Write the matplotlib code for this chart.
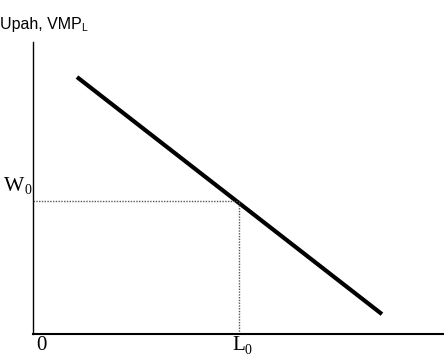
import matplotlib.pyplot as plt

# demand curve (VMP_L) end points, in axis units
curve_x = [1.07, 8.49]
curve_y = [8.80, 0.68]
L0 = 5.0
W0 = 4.55

fig = plt.figure(figsize=(4.44, 3.64), dpi=100)
ax = fig.add_axes([33/444, 30/364, 411/444, 292/364])
ax.set_xlim(0, 10)
ax.set_ylim(0, 10)

ax.plot(curve_x, curve_y, color='black', lw=3.0, solid_capstyle='butt')
ax.plot([0, L0], [W0, W0], color='#555555', lw=1.0, ls=(0, (1, 1)))
ax.plot([L0, L0], [0, W0], color='#555555', lw=1.0, ls=(0, (1, 1)))

for s in ['top', 'right']:
    ax.spines[s].set_visible(False)
ax.spines['left'].set_linewidth(1.0)
ax.spines['bottom'].set_linewidth(1.5)
ax.set_xticks([])
ax.set_yticks([])

serif = 'Liberation Serif'
sans = 'Liberation Sans'
# axis title
fig.text(0 / 444, 1 - 24 / 364, 'Upah, VMP', fontsize=11.5, family=sans, va='center', ha='left')
fig.text(81 / 444, 1 - 28 / 364, 'L', fontsize=7.5, family=sans, va='center', ha='left')
# W0
fig.text(4 / 444, 1 - 187 / 364, 'W', fontsize=15.5, family=serif, va='center', ha='left')
fig.text(24 / 444, 1 - 190 / 364, '0', fontsize=10, family=serif, va='center', ha='left')
# origin
fig.text(36 / 444, 1 - 346 / 364, '0', fontsize=15, family=serif, va='center', ha='left')
# L0
fig.text(232 / 444, 1 - 346 / 364, 'L', fontsize=15, family=serif, va='center', ha='left')
fig.text(244 / 444, 1 - 350 / 364, '0', fontsize=10, family=serif, va='center', ha='left')

fig.savefig('out.png', dpi=100)
